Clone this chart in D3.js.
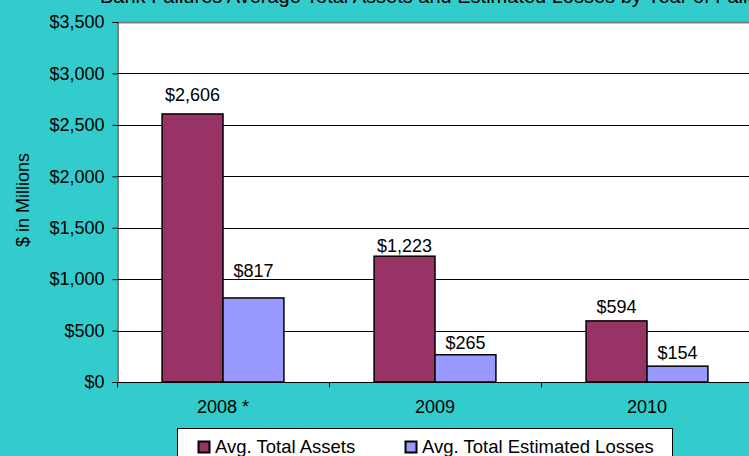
<!DOCTYPE html>
<html><head><meta charset="utf-8">
<script src="https://cdn.jsdelivr.net/npm/d3@7"></script>
<style>html,body{margin:0;padding:0;background:#33CCCC;overflow:hidden}svg{display:block;font-family:Arial,"Liberation Sans",sans-serif}</style>
</head><body>
<svg id="c" width="749" height="456"></svg>
<script>
const categories = ["2008 *", "2009", "2010"];
const seriesNames = ["Avg. Total Assets", "Avg. Total Estimated Losses"];
const assets = [2606, 1223, 594];
const losses = [817, 265, 154];
const yTicks = [0, 500, 1000, 1500, 2000, 2500, 3000, 3500];
const colors = ["#993366", "#9999FF"];

(function () {
const svg = d3.select("#c");
const W = 749, H = 456;
const FS = 18;
// label gap (px) between label baseline and bar top, per category per series (layout only)
const labelGap = [[13, 21], [4, 6], [8, 7]];
svg.append("rect").attr("width", W).attr("height", H).attr("fill", "#33CCCC");

const pLeft = 117, pTop = 22, pBottom = 382, pRight = 753;
const x = d3.scaleBand().domain(categories).range([pLeft, pRight]);
const y = d3.scaleLinear().domain([0, 3500]).range([pBottom, pTop]);
const xs = d3.scaleBand().domain(seriesNames).range([0, x.bandwidth()]).paddingOuter(0.74).paddingInner(0);

svg.append("rect").attr("x", pLeft).attr("y", pTop).attr("width", pRight - pLeft).attr("height", pBottom - pTop).attr("fill", "#fff");

svg.append("g").selectAll("line").data(yTicks.filter(d => d > 0)).join("line")
  .attr("x1", pLeft).attr("x2", pRight)
  .attr("y1", d => Math.round(y(d)) + 0.5).attr("y2", d => Math.round(y(d)) + 0.5)
  .attr("stroke", d => d === 3500 ? "#808080" : "#000").attr("stroke-width", d => d === 3500 ? 2 : 1);

const data = categories.map((c, i) => ({c, vals: [assets[i], losses[i]]}));
const g = svg.append("g");
data.forEach((d, i) => {
  d.vals.forEach((v, j) => {
    const bx = x(d.c) + xs(seriesNames[j]);
    g.append("rect").attr("x", bx).attr("y", y(v)).attr("width", xs.bandwidth()).attr("height", pBottom - y(v))
      .attr("fill", colors[j]).attr("stroke", "#000").attr("stroke-width", 1.5);
    g.append("text").attr("x", bx + xs.bandwidth() / 2).attr("y", y(v) - labelGap[i][j]).attr("text-anchor", "middle")
      .attr("font-size", FS).attr("fill", "#000").text("$" + d3.format(",")(v));
  });
});

const yAxis = d3.axisLeft(y).tickValues(yTicks).tickSize(5).tickPadding(8).tickFormat(d => "$" + d3.format(",")(d));
const ya = svg.append("g").attr("transform", `translate(${pLeft + 0.5},0)`).call(yAxis);
ya.selectAll("text").attr("font-size", FS).attr("fill", "#000").attr("font-family", "Arial,'Liberation Sans',sans-serif");
ya.selectAll("line").attr("stroke", "#000");
ya.select(".domain").attr("stroke", "#000");

const xa = svg.append("g").attr("transform", `translate(0,${pBottom + 0.5})`);
xa.append("line").attr("x1", pLeft).attr("x2", pRight).attr("stroke", "#000");
xa.selectAll("line.t").data(categories).join("line").attr("class", "t")
  .attr("x1", d => x(d) + 0.5).attr("x2", d => x(d) + 0.5).attr("y1", 0).attr("y2", 5).attr("stroke", "#000");
svg.append("g").selectAll("text").data(categories).join("text")
  .attr("x", d => x(d) + x.bandwidth() / 2).attr("y", 413).attr("text-anchor", "middle")
  .attr("font-size", FS).attr("fill", "#000").text(d => d);

svg.append("text").attr("x", 100).attr("y", 3).attr("font-size", 20).attr("fill", "#000")
  .text("Bank Failures Average Total Assets and Estimated Losses by Year of Failure");

svg.append("text").attr("transform", "translate(29,200) rotate(-90)").attr("text-anchor", "middle")
  .attr("font-size", FS).attr("fill", "#000").text("$ in Millions");

const lg = svg.append("g");
lg.append("rect").attr("x", 177.5).attr("y", 428.5).attr("width", 495).attr("height", 40).attr("fill", "#fff").attr("stroke", "#000");
const legX = [198, 405];
seriesNames.forEach((s, i) => {
  lg.append("rect").attr("x", legX[i] + 0.5).attr("y", 441.5).attr("width", 11).attr("height", 11)
    .attr("fill", colors[i]).attr("stroke", "#000").attr("stroke-width", 2);
  lg.append("text").attr("x", legX[i] + 17).attr("y", 453).attr("font-size", 18.5).attr("fill", "#000").text(s);
});
})();
</script>
</body></html>
